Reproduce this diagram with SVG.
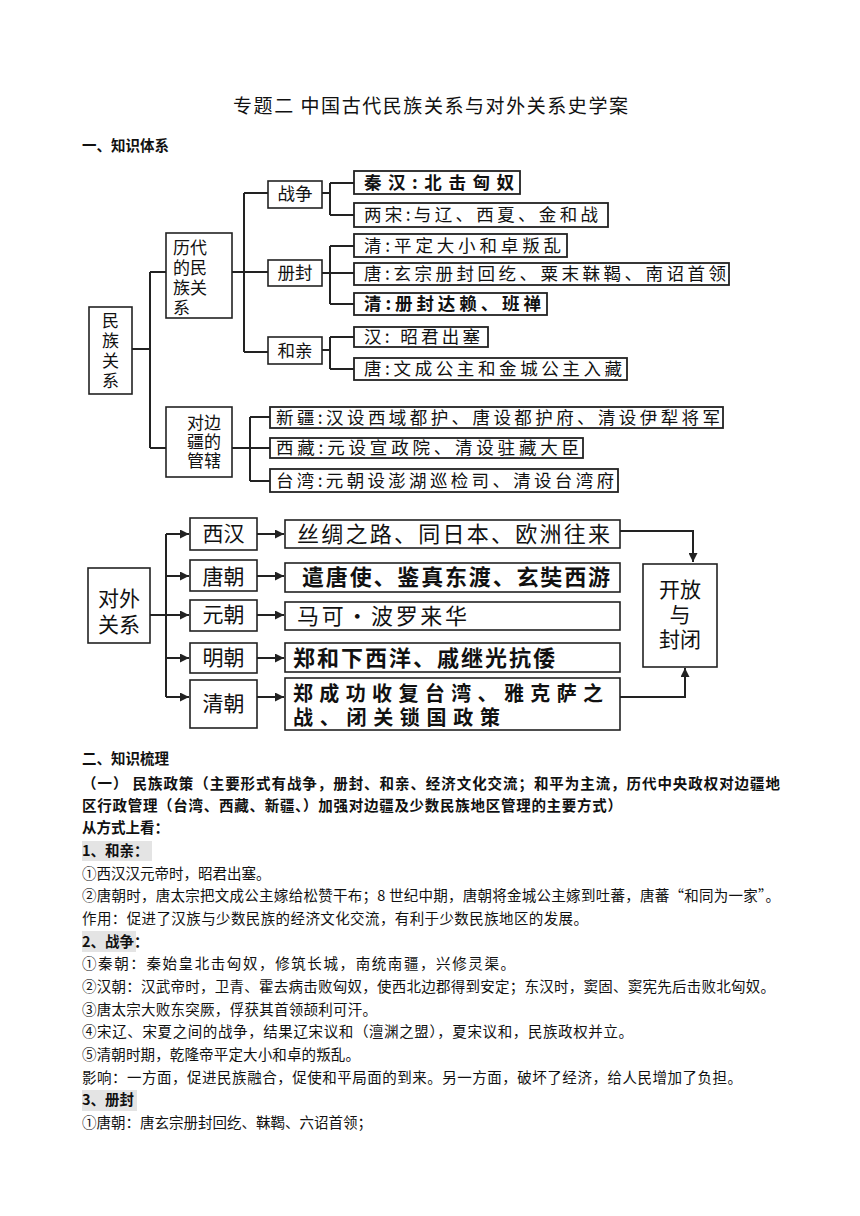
<svg xmlns="http://www.w3.org/2000/svg" width="860" height="1216" viewBox="0 0 860 1216">
<defs>
<style>
text{font-family:"Noto Sans CJK SC","Noto Sans",sans-serif;fill:#111}
.title{font-size:19px}
.h{font-size:14.5px;font-weight:bold}
.b{font-size:14.5px}
.box{fill:#fff;stroke:#222;stroke-width:1.6}
.leaf{fill:#fff;stroke:#222;stroke-width:1.8}
.lt{font-size:17.5px}
.mt{font-size:17px}
.bt{font-size:21px}
.dt{font-size:22px}
.bold{font-weight:bold}
.con{fill:none;stroke:#222;stroke-width:2}
.hl{fill:#e4e4e4}
</style>
<marker id="ah" viewBox="0 0 10 10" refX="10" refY="5" markerWidth="9" markerHeight="9" markerUnits="userSpaceOnUse" orient="auto">
<path d="M0,0 L10,5 L0,10 z" fill="#222"/>
</marker>
</defs>
<rect width="860" height="1216" fill="#fff"/>

<text class="title" x="233" y="113" textLength="395" lengthAdjust="spacing">专题二 中国古代民族关系与对外关系史学案</text>
<text class="h" x="82" y="151">一、知识体系</text>

<!-- Top tree connectors -->
<g id="connectors-top">
<path class="con" d="M132,349 H150 M150,272 V448 M150,272 H166 M150,448 H166"/>
<path class="con" d="M232,272 H268 M244,193 V352 M244,193 H268 M244,352 H268"/>
<path class="con" d="M322,193 H330 M330,183 V215 M330,183 H354 M330,215 H354"/>
<path class="con" d="M322,273 H354 M330,246 V304 M330,246 H354 M330,304 H354"/>
<path class="con" d="M322,350 H330 M330,337 V369 M330,337 H354 M330,369 H354"/>
<path class="con" d="M232,448 H270 M250,417 V481 M250,417 H270 M250,481 H270"/>
</g>

<g id="n-minzu">
<rect class="box" x="89" y="307" width="43" height="87"/>
<text class="mt" font-size="18" text-anchor="middle"><tspan x="110.5" y="327">民</tspan><tspan x="110.5" y="347">族</tspan><tspan x="110.5" y="367">关</tspan><tspan x="110.5" y="387">系</tspan></text>
</g>
<g id="n-lidai">
<rect class="box" x="166" y="233" width="66" height="85"/>
<text class="mt"><tspan x="173" y="254">历代</tspan><tspan x="173" y="274">的民</tspan><tspan x="173" y="294">族关</tspan><tspan x="173" y="314">系</tspan></text>
</g>
<g id="n-bianjiang">
<rect class="box" x="166" y="407" width="66" height="70"/>
<text class="mt" text-anchor="middle"><tspan x="204" y="429">对边</tspan><tspan x="204" y="448">疆的</tspan><tspan x="204" y="467">管辖</tspan></text>
</g>
<g id="n-zhanzheng">
<rect class="box" x="268" y="181" width="54" height="27"/>
<text class="lt" x="295" y="200" text-anchor="middle">战争</text>
</g>
<g id="n-cefeng">
<rect class="box" x="268" y="260" width="54" height="26"/>
<text class="lt" x="295" y="279" text-anchor="middle">册封</text>
</g>
<g id="n-heqin">
<rect class="box" x="268" y="337" width="54" height="27"/>
<text class="lt" x="295" y="357" text-anchor="middle">和亲</text>
</g>

<g id="l-qinhan">
<rect class="leaf" x="354" y="171" width="166" height="23"/>
<text class="lt bold" x="364" y="189" textLength="150" lengthAdjust="spacing">秦汉:北击匈奴</text>
</g>
<g id="l-liangsong">
<rect class="leaf" x="354" y="203" width="254" height="24"/>
<text class="lt" x="364" y="221" textLength="234" lengthAdjust="spacing">两宋:与辽、西夏、金和战</text>
</g>
<g id="l-qing1">
<rect class="leaf" x="354" y="234" width="213" height="23"/>
<text class="lt" x="364" y="252" textLength="197" lengthAdjust="spacing">清:平定大小和卓叛乱</text>
</g>
<g id="l-tang1">
<rect class="leaf" x="354" y="263" width="375" height="22"/>
<text class="lt" x="364" y="280" textLength="362" lengthAdjust="spacing">唐:玄宗册封回纥、粟末靺鞨、南诏首领</text>
</g>
<g id="l-qing2">
<rect class="leaf" x="354" y="293" width="193" height="22"/>
<text class="lt bold" x="364" y="310" textLength="177" lengthAdjust="spacing">清:册封达赖、班禅</text>
</g>
<g id="l-han">
<rect class="leaf" x="354" y="327" width="134" height="20"/>
<text class="lt" x="364" y="343" textLength="116" lengthAdjust="spacing">汉: 昭君出塞</text>
</g>
<g id="l-tang2">
<rect class="leaf" x="354" y="358" width="273" height="22"/>
<text class="lt" x="364" y="375" textLength="258" lengthAdjust="spacing">唐:文成公主和金城公主入藏</text>
</g>
<g id="l-xinjiang">
<rect class="leaf" x="270" y="407" width="453" height="21"/>
<text class="lt" x="276" y="424" textLength="444" lengthAdjust="spacing">新疆:汉设西域都护、唐设都护府、清设伊犁将军</text>
</g>
<g id="l-xizang">
<rect class="leaf" x="270" y="438" width="313" height="20"/>
<text class="lt" x="276" y="454" textLength="303" lengthAdjust="spacing">西藏:元设宣政院、清设驻藏大臣</text>
</g>
<g id="l-taiwan">
<rect class="leaf" x="270" y="469" width="348" height="23"/>
<text class="lt" x="276" y="487" textLength="338" lengthAdjust="spacing">台湾:元朝设澎湖巡检司、清设台湾府</text>
</g>

<!-- Bottom diagram connectors -->
<g id="connectors-bottom">
<path class="con" d="M150,615 H166 M166,534 V697"/>
<line class="con" x1="166" y1="534" x2="189" y2="534" marker-end="url(#ah)"/>
<line class="con" x1="166" y1="576" x2="189" y2="576" marker-end="url(#ah)"/>
<line class="con" x1="166" y1="615" x2="189" y2="615" marker-end="url(#ah)"/>
<line class="con" x1="166" y1="658" x2="189" y2="658" marker-end="url(#ah)"/>
<line class="con" x1="166" y1="697" x2="189" y2="697" marker-end="url(#ah)"/>
<line class="con" x1="257" y1="534" x2="284" y2="534" marker-end="url(#ah)"/>
<line class="con" x1="257" y1="576" x2="284" y2="576" marker-end="url(#ah)"/>
<line class="con" x1="257" y1="615" x2="284" y2="615" marker-end="url(#ah)"/>
<line class="con" x1="257" y1="658" x2="284" y2="658" marker-end="url(#ah)"/>
<line class="con" x1="257" y1="697" x2="284" y2="697" marker-end="url(#ah)"/>
<path class="con" d="M620,531 H693 V562" marker-end="url(#ah)"/>
<path class="con" d="M620,697 H685 V668" marker-end="url(#ah)"/>
</g>

<g id="n-duiwai">
<rect class="box" x="88" y="568" width="62" height="75" stroke-width="2"/>
<text class="bt" text-anchor="middle"><tspan x="119" y="606">对外</tspan><tspan x="119" y="632">关系</tspan></text>
</g>
<g id="n-xihan">
<rect class="box" x="190" y="518" width="67" height="32" stroke-width="2"/>
<text class="bt" x="223.5" y="541" text-anchor="middle">西汉</text>
</g>
<g id="n-tangchao">
<rect class="box" x="190" y="560" width="67" height="31" stroke-width="2"/>
<text class="bt" x="223.5" y="584" text-anchor="middle">唐朝</text>
</g>
<g id="n-yuanchao">
<rect class="box" x="190" y="600" width="67" height="31" stroke-width="2"/>
<text class="bt" x="223.5" y="622" text-anchor="middle">元朝</text>
</g>
<g id="n-mingchao">
<rect class="box" x="190" y="643" width="67" height="30" stroke-width="2"/>
<text class="bt" x="223.5" y="665" text-anchor="middle">明朝</text>
</g>
<g id="n-qingchao">
<rect class="box" x="190" y="680" width="67" height="48" stroke-width="2"/>
<text class="bt" x="223.5" y="711" text-anchor="middle">清朝</text>
</g>
<g id="d-xihan">
<rect class="box" x="285" y="520" width="335" height="28" stroke-width="2"/>
<text class="dt" x="297" y="542" textLength="313" lengthAdjust="spacing">丝绸之路、同日本、欧洲往来</text>
</g>
<g id="d-tang">
<rect class="box" x="285" y="563" width="335" height="29" stroke-width="2"/>
<text class="dt bold" x="302" y="585" textLength="308" lengthAdjust="spacing">遣唐使、鉴真东渡、玄奘西游</text>
</g>
<g id="d-yuan">
<rect class="box" x="285" y="602" width="335" height="28" stroke-width="2"/>
<text class="dt" x="297" y="624" textLength="170" lengthAdjust="spacing">马可·波罗来华</text>
</g>
<g id="d-ming">
<rect class="box" x="285" y="643" width="335" height="29" stroke-width="2"/>
<text class="dt bold" x="293" y="666" textLength="262" lengthAdjust="spacing">郑和下西洋、戚继光抗倭</text>
</g>
<g id="d-qing">
<rect class="box" x="285" y="678" width="335" height="52" stroke-width="2"/>
<text class="bold" font-size="20"><tspan x="293" y="701" textLength="310" lengthAdjust="spacing">郑成功收复台湾、雅克萨之</tspan><tspan x="293" y="725" textLength="207" lengthAdjust="spacing">战、闭关锁国政策</tspan></text>
</g>
<g id="n-kaifang">
<rect class="box" x="643" y="564" width="74" height="103" stroke-width="2"/>
<text class="bt" text-anchor="middle"><tspan x="680" y="597">开放</tspan><tspan x="680" y="622">与</tspan><tspan x="680" y="647">封闭</tspan></text>
</g>

<!-- Text section -->
<g id="notes">
<rect class="hl" x="82" y="841" width="70" height="20"/>
<rect class="hl" x="82" y="931" width="54" height="21"/>
<rect class="hl" x="82" y="1090" width="55" height="21"/>
<text class="h" x="82" y="764">二、知识梳理</text>
<text class="h" x="82" y="789" textLength="698" lengthAdjust="spacing">（一） 民族政策（主要形式有战争，册封、和亲、经济文化交流；和平为主流，历代中央政权对边疆地</text>
<text class="h" x="82" y="811" textLength="540" lengthAdjust="spacing">区行政管理（台湾、西藏、新疆、）加强对边疆及少数民族地区管理的主要方式）</text>
<text class="h" x="82" y="833">从方式上看：</text>
<text class="h" x="82" y="856">1、和亲：</text>
<text class="b" x="82" y="879">①西汉汉元帝时，昭君出塞。</text>
<text class="b" x="82" y="901" textLength="698" lengthAdjust="spacing">②唐朝时，唐太宗把文成公主嫁给松赞干布；8 世纪中期，唐朝将金城公主嫁到吐蕃，唐蕃“和同为一家”。</text>
<text class="b" x="82" y="924" textLength="506" lengthAdjust="spacing">作用：促进了汉族与少数民族的经济文化交流，有利于少数民族地区的发展。</text>
<text class="h" x="82" y="947">2、战争：</text>
<text class="b" x="82" y="969" textLength="433" lengthAdjust="spacing">①秦朝：秦始皇北击匈奴，修筑长城，南统南疆，兴修灵渠。</text>
<text class="b" x="82" y="992" textLength="693" lengthAdjust="spacing">②汉朝：汉武帝时，卫青、霍去病击败匈奴，使西北边郡得到安定；东汉时，窦固、窦宪先后击败北匈奴。</text>
<text class="b" x="82" y="1015" textLength="295" lengthAdjust="spacing">③唐太宗大败东突厥，俘获其首领颉利可汗。</text>
<text class="b" x="82" y="1037" textLength="551" lengthAdjust="spacing">④宋辽、宋夏之间的战争，结果辽宋议和（澶渊之盟），夏宋议和，民族政权并立。</text>
<text class="b" x="82" y="1060" textLength="278" lengthAdjust="spacing">⑤清朝时期，乾隆帝平定大小和卓的叛乱。</text>
<text class="b" x="82" y="1083" textLength="660" lengthAdjust="spacing">影响：一方面，促进民族融合，促使和平局面的到来。另一方面，破坏了经济，给人民增加了负担。</text>
<text class="h" x="82" y="1105">3、册封</text>
<text class="b" x="82" y="1128" textLength="290" lengthAdjust="spacing">①唐朝：唐玄宗册封回纥、靺鞨、六诏首领；</text>
</g>
</svg>
